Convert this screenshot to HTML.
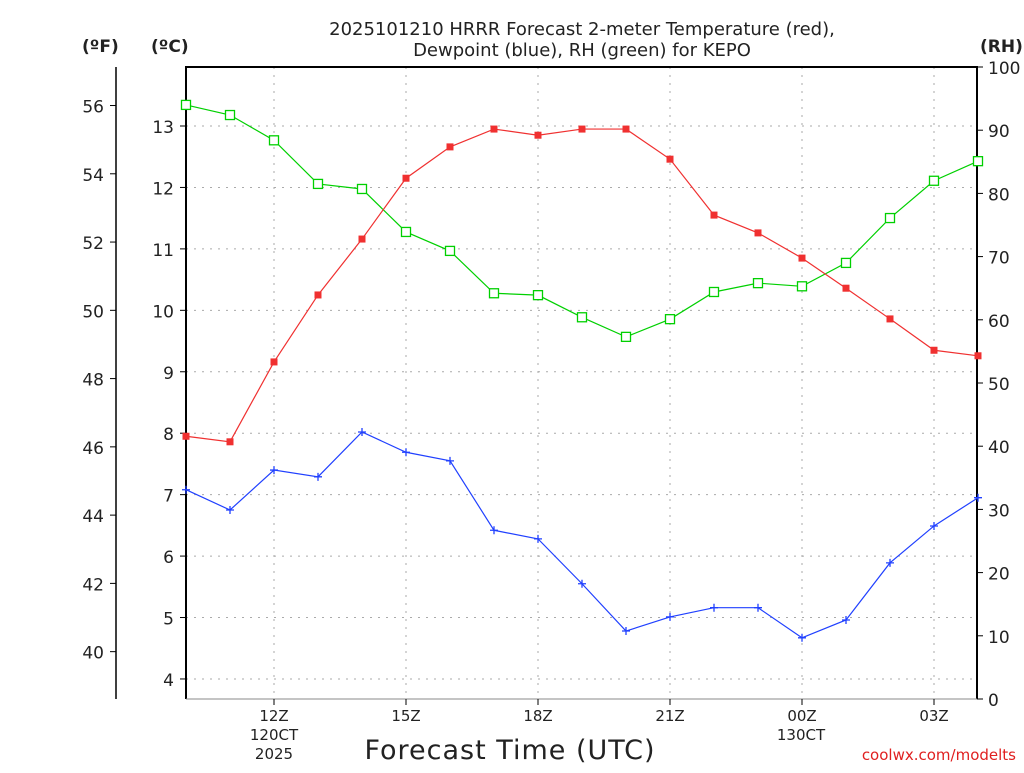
<!DOCTYPE html>
<html><head><meta charset="utf-8"><style>
body{margin:0;background:#fff;width:1024px;height:768px;overflow:hidden}
svg text{font-family:"DejaVu Sans","Liberation Sans",sans-serif;fill:#222}
</style></head><body>
<svg id="c" width="1024" height="768"></svg>
<script>
const hours=[10,11,12,13,14,15,16,17,18,19,20,21,22,23,24,25,26,27,28];
const tempC=[7.95,7.86,9.16,10.25,11.16,12.15,12.66,12.95,12.85,12.95,12.95,12.46,11.55,11.26,10.85,10.36,9.86,9.35,9.26];
const dewC=[7.08,6.75,7.40,7.29,8.02,7.69,7.55,6.42,6.28,5.55,4.78,5.01,5.16,5.16,4.67,4.96,5.89,6.49,6.95];
const rh=[94.0,92.4,88.4,81.5,80.7,73.9,70.9,64.2,63.9,60.4,57.3,60.1,64.4,65.8,65.3,69.0,76.1,82.0,85.1];
const cTicks=[4,5,6,7,8,9,10,11,12,13];
const fTicks=[40,42,44,46,48,50,52,54,56];
const rhTicks=[0,10,20,30,40,50,60,70,80,90,100];
const xTicks=[12,15,18,21,24,27];
const xLabels=["12Z","15Z","18Z","21Z","00Z","03Z"];
const L=186,R=977,T=67,B=699;
const X=h=>L+(h-10)*44;
const YC=c=>126+(13-c)*61.44;
const YF=f=>YC((f-32)/1.8);
const YR=r=>B-r*6.32;
const svg=document.getElementById('c');const NS='http://www.w3.org/2000/svg';
function el(t,a,txt){const e=document.createElementNS(NS,t);for(const k in a)e.setAttribute(k,a[k]);if(txt!=null)e.textContent=txt;svg.appendChild(e);return e;}
// grid
cTicks.forEach(c=>{const g=el('line',{x1:L,x2:R,y1:YC(c),y2:YC(c),stroke:'#aaa','stroke-dasharray':'2,6'});

});
xTicks.forEach(h=>{const g=el('line',{x1:X(h),x2:X(h),y1:T,y2:B,stroke:'#aaa','stroke-dasharray':'2,6'});

});
// frame
let f=el('path',{d:`M${L},${B}V${T}H${R}V${B}`,fill:'none',stroke:'#000','stroke-width':2});

let f2=el('line',{x1:116,x2:116,y1:67,y2:699,stroke:'#000','stroke-width':1.5});

el('line',{x1:L,x2:R,y1:B,y2:B,stroke:'#888','stroke-width':1});
cTicks.forEach(c=>{el('line',{x1:L-6,x2:L,y1:YC(c),y2:YC(c),stroke:'#000'});
const t=el('text',{x:174,y:YC(c)+7,'text-anchor':'end','font-size':17},c);
});
fTicks.forEach(v=>{el('line',{x1:110,x2:116,y1:YF(v),y2:YF(v),stroke:'#000'});
const t=el('text',{x:104,y:YF(v)+7,'text-anchor':'end','font-size':17},v);
});
rhTicks.forEach(v=>{el('line',{x1:R,x2:R+6,y1:YR(v),y2:YR(v),stroke:'#000'});
const t=el('text',{x:988,y:YR(v)+7,'font-size':17},v);
});
xTicks.forEach((h,i)=>{el('line',{x1:X(h),x2:X(h),y1:B,y2:B+6,stroke:'#000'});
const t=el('text',{x:X(h),y:721,'text-anchor':'middle','font-size':15},xLabels[i]);
});
[["120CT",274,740],["2025",274,759],["130CT",801,740]].forEach(a=>{const t=el('text',{x:a[1],y:a[2],'text-anchor':'middle','font-size':15},a[0]);
});
let tt=el('text',{x:582,y:35,'text-anchor':'middle','font-size':18},'2025101210 HRRR Forecast 2-meter Temperature (red),');

tt=el('text',{x:582,y:56,'text-anchor':'middle','font-size':18},'Dewpoint (blue), RH (green) for KEPO');

[["(ºF)",82],["(ºC)",151],["(RH)",980]].forEach(a=>{const t=el('text',{x:a[1],y:52,'font-size':17,'font-weight':'bold',fill:'#000'},a[0]);
});
tt=el('text',{x:510,y:759,'text-anchor':'middle','font-size':27,'letter-spacing':'1'},'Forecast Time (UTC)');

tt=el('text',{x:1016,y:760,'text-anchor':'end','font-size':15,style:'fill:#e02020'},'coolwx.com/modelts');

function series(vals,yf,color,kind,name){
const pts=vals.map((v,i)=>[X(hours[i]),yf(v)]);
const p=el('polyline',{points:pts.map(p=>p.join(',')).join(' '),fill:'none',stroke:color,'stroke-width':1.2});


pts.forEach(([x,y])=>{let m;
if(kind==='fill')m=el('rect',{x:x-3.5,y:y-3.5,width:7,height:7,fill:color});
else if(kind==='open')m=el('rect',{x:x-4.5,y:y-4.5,width:9,height:9,fill:'#fff',stroke:color,'stroke-width':1.3});
else m=el('path',{d:`M${x-4},${y}H${x+4}M${x},${y-4}V${y+4}`,stroke:color,'stroke-width':1.3});

});
}
series(rh,YR,'#00d000','open','rh');
series(tempC,YC,'#f03030','fill','temperature');
series(dewC,YC,'#2040ff','plus','dewpoint');
</script>
</body></html>
